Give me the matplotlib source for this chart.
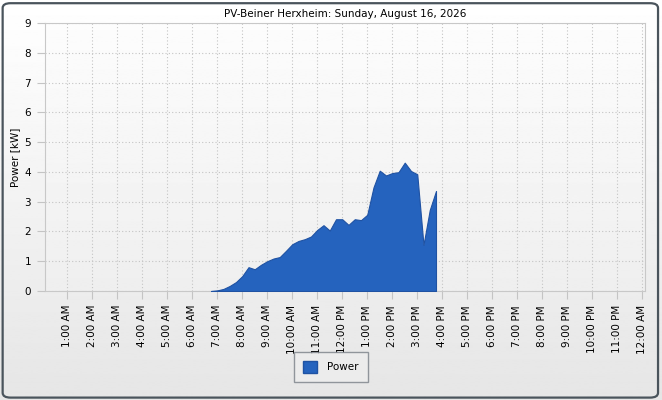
import numpy as np
import matplotlib.pyplot as plt
from matplotlib.patches import FancyBboxPatch, Patch

# hours of day (15 min steps) and power in kW
hours = [6.75, 7.0, 7.25, 7.5, 7.75, 8.0, 8.25, 8.5, 8.75, 9.0, 9.25, 9.5,
         9.75, 10.0, 10.25, 10.5, 10.75, 11.0, 11.25, 11.5, 11.75, 12.0,
         12.25, 12.5, 12.75, 13.0, 13.25, 13.5, 13.75, 14.0, 14.25, 14.5,
         14.75, 15.0, 15.25, 15.5, 15.75]
power = [0.0, 0.02, 0.07, 0.17, 0.3, 0.5, 0.8, 0.73, 0.88, 1.0, 1.09, 1.14,
         1.35, 1.57, 1.68, 1.74, 1.83, 2.05, 2.21, 2.03, 2.41, 2.41,
         2.22, 2.41, 2.38, 2.56, 3.48, 4.04, 3.88, 3.96, 3.99, 4.31,
         4.03, 3.92, 1.55, 2.72, 3.36]

tick_hours = list(range(1, 25))
tick_labels = ['1:00 AM', '2:00 AM', '3:00 AM', '4:00 AM', '5:00 AM', '6:00 AM',
               '7:00 AM', '8:00 AM', '9:00 AM', '10:00 AM', '11:00 AM', '12:00 PM',
               '1:00 PM', '2:00 PM', '3:00 PM', '4:00 PM', '5:00 PM', '6:00 PM',
               '7:00 PM', '8:00 PM', '9:00 PM', '10:00 PM', '11:00 PM', '12:00 AM']

title = 'PV-Beiner Herxheim: Sunday, August 16, 2026'
fill_col = '#2563be'
grid_col = '#c4c4c4'

plt.rcParams['font.family'] = ['DejaVu Sans']
plt.rcParams['font.size'] = 7.5

fig = plt.figure(figsize=(6.62, 4.0), dpi=100)

# background gradient + rounded frame
bg = fig.add_axes([0, 0, 1, 1], zorder=-10)
grad = np.linspace(1.0, 0.9, 256).reshape(-1, 1)
bg.imshow(grad, cmap='gray', vmin=0, vmax=1, aspect='auto',
          extent=[0, 1, 0, 1], transform=bg.transAxes)
bg.add_patch(FancyBboxPatch((0.004, 0.006), 0.99, 0.986,
                            boxstyle='round,pad=0,rounding_size=0.012',
                            transform=bg.transAxes, fill=False,
                            edgecolor='#4a545c', linewidth=1.6))
bg.set_axis_off()

ax = fig.add_axes([0.068, 0.2725, 0.9063, 0.67])
# plot area: light gradient, white at top
pgrad = np.linspace(0.99, 0.935, 256).reshape(-1, 1)
ax.imshow(pgrad, cmap='gray', vmin=0, vmax=1, aspect='auto',
          extent=[0, 1, 0, 1], transform=ax.transAxes, zorder=-1)
ax.fill_between(hours + [hours[-1]], power + [0], 0, color=fill_col,
                edgecolor='#1f52a3', linewidth=0.8, zorder=3)

ax.set_xlim(0.11, 24.11)
ax.set_ylim(0, 9)
ax.set_xticks(tick_hours)
ax.set_xticklabels(tick_labels, rotation=90)
ax.set_yticks(range(0, 10))
ax.set_axisbelow(True)
ax.grid(True, color=grid_col, linestyle=(0, (1, 2)), linewidth=0.8)
ax.tick_params(length=6, color=grid_col)
ax.tick_params(axis='x', pad=4)
ax.tick_params(axis='y', pad=4)
for side in ax.spines:
    ax.spines[side].set_color('#c8c8c8')

ax.set_title(title, fontsize=7.5, pad=4)
ax.set_ylabel('Power [kW]', labelpad=3)

leg = fig.legend(handles=[Patch(facecolor=fill_col, edgecolor='#1f52a3', label='Power')],
                 loc='center', bbox_to_anchor=(0.4998, 0.0825), frameon=True,
                 fancybox=False, handlelength=1.3, handleheight=1.3,
                 borderpad=0.9, handletextpad=1.0)
leg.get_frame().set_edgecolor('#7a8088')
leg.get_frame().set_facecolor('#eeeeee')

fig.savefig('out.png', dpi=100)
